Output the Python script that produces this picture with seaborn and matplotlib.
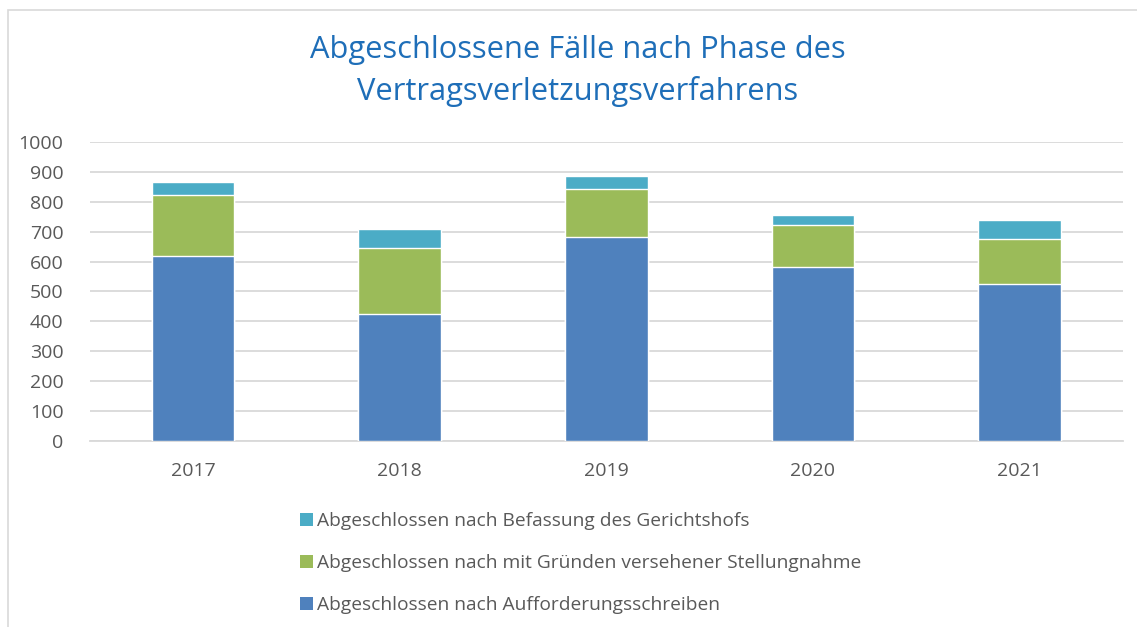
import matplotlib
matplotlib.use("Agg")
import matplotlib.pyplot as plt
from matplotlib.patches import Patch, Rectangle
import numpy as np
import pandas as pd
import seaborn as sns

years = ["2017", "2018", "2019", "2020", "2021"]
nach_aufforderung = [620, 426, 682, 581, 525]
nach_stellungnahme = [202, 218, 160, 143, 152]
nach_gerichtshof = [45, 66, 45, 33, 61]

series_labels = [
    "Abgeschlossen nach Befassung des Gerichtshofs",
    "Abgeschlossen nach mit Gründen versehener Stellungnahme",
    "Abgeschlossen nach Aufforderungsschreiben",
]
col_blue = "#4F81BD"
col_green = "#9BBB59"
col_cyan = "#4BACC6"

sns.set_style("white")
plt.rcParams["font.family"] = ["Open Sans", "DejaVu Sans"]

df = pd.DataFrame({
    "Jahr": years,
    "blue": nach_aufforderung,
    "green": np.add(nach_aufforderung, nach_stellungnahme),
    "cyan": np.add(np.add(nach_aufforderung, nach_stellungnahme), nach_gerichtshof),
})

fig = plt.figure(figsize=(11.37, 6.27), dpi=100)
ax = fig.add_axes([0.079, 0.2967, 0.9085, 0.4768])

# stacked bars: draw cumulative totals back to front
sns.barplot(data=df, x="Jahr", y="cyan", color=col_cyan, width=0.4, saturation=1, ax=ax, zorder=2)
sns.barplot(data=df, x="Jahr", y="green", color=col_green, width=0.4, saturation=1, ax=ax, zorder=3)
sns.barplot(data=df, x="Jahr", y="blue", color=col_blue, width=0.4, saturation=1, ax=ax, zorder=4)

ax.set_ylim(0, 1000)
ax.set_xlim(-0.5, 4.5)
ax.set_yticks(range(0, 1001, 100))
ax.yaxis.grid(True, color="#D9D9D9", linewidth=1.3, zorder=0)
ax.set_axisbelow(True)
for s in ["top", "right", "left"]:
    ax.spines[s].set_visible(False)
ax.spines["bottom"].set_color("#D9D9D9")
ax.spines["bottom"].set_linewidth(1.3)
ax.tick_params(axis="both", length=0, labelsize=14, labelcolor="#595959")
ax.tick_params(axis="x", pad=15)
ax.tick_params(axis="y", pad=19)
ax.set_xlabel("")
ax.set_ylabel("")

fig.text(0.508, 0.887, "Abgeschlossene Fälle nach Phase des\nVertragsverletzungsverfahrens",
         ha="center", va="center", fontsize=22.2, color="#1E6EB8", linespacing=1.48)

handles = [Patch(facecolor=c, edgecolor="none") for c in [col_cyan, col_green, col_blue]]
fig.legend(handles, series_labels, loc="upper left", bbox_to_anchor=(0.255, 0.198),
           frameon=False, fontsize=13.8, labelcolor="#595959", handlelength=0.7,
           handleheight=0.7, handletextpad=0.2, labelspacing=1.25, borderpad=0)

fig.patches.append(Rectangle((0.007, -0.1), 1.2, 1.084, transform=fig.transFigure,
                             fill=False, edgecolor="#D9D9D9", linewidth=1.2))

fig.savefig("out.png", dpi=100)
